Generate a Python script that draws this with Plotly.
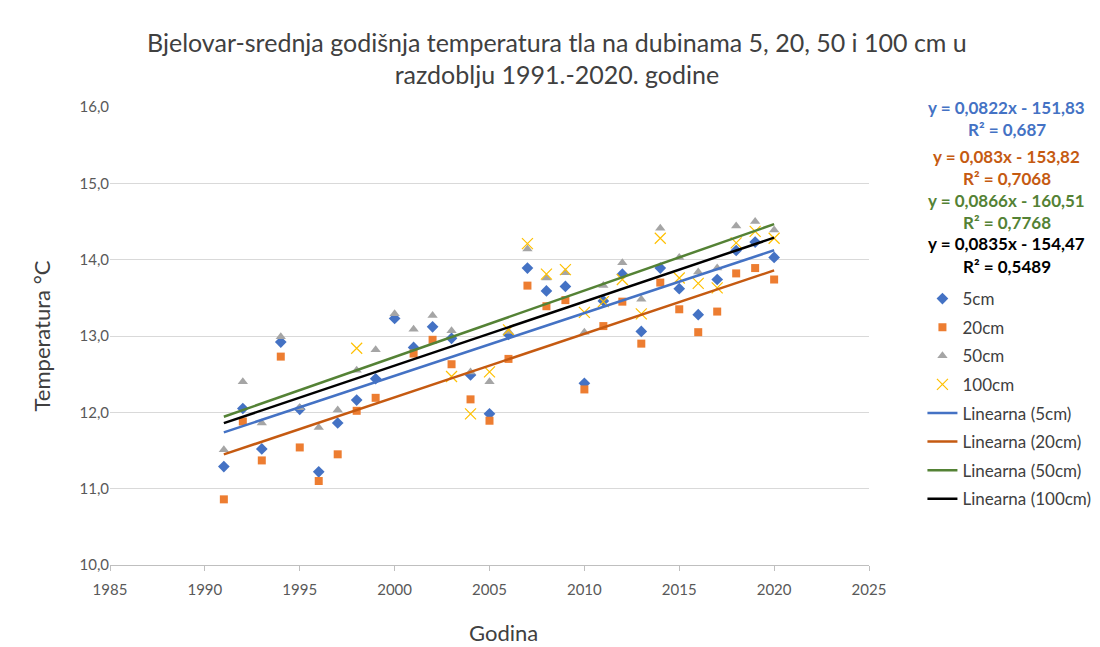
import numpy as np
import plotly.graph_objects as go

years = list(range(1991, 2021))

t5cm = [11.29, 12.05, 11.52, 12.92, 12.04, 11.22, 11.86, 12.16, 12.44, 13.23,
        12.85, 13.12, 12.97, 12.49, 11.98, 13.02, 13.89, 13.59, 13.65, 12.38,
        13.46, 13.81, 13.06, 13.89, 13.62, 13.28, 13.74, 14.12, 14.23, 14.03]

t20cm = [10.86, 11.88, 11.37, 12.73, 11.54, 11.10, 11.45, 12.02, 12.19, None,
         12.77, 12.95, 12.63, 12.17, 11.89, 12.70, 13.66, 13.39, 13.47, 12.30,
         13.13, 13.45, 12.90, 13.70, 13.35, 13.05, 13.32, 13.82, 13.89, 13.74]

t50cm = [11.51, 12.40, 11.86, 12.99, 12.06, 11.80, 12.03, 12.55, 12.82, 13.29,
         13.09, 13.27, 13.07, 12.53, 12.40, 13.06, 14.14, 13.76, 13.83, 13.05,
         13.66, 13.96, 13.48, 14.41, 14.03, 13.84, 13.89, 14.44, 14.50, 14.39]

t100cm = [None, None, None, None, None, None, None, 12.84, None, None,
          None, None, 12.47, 11.98, 12.53, 13.08, 14.21, 13.81, 13.87, 13.31,
          13.45, 13.74, 13.29, 14.28, 13.76, 13.69, 13.63, 14.22, 14.37, 14.28]

series_names = ["5cm", "20cm", "50cm", "100cm"]
trend_names = ["Linearna (5cm)", "Linearna (20cm)", "Linearna (50cm)", "Linearna (100cm)"]
equations = ["y = 0,0822x - 151,83", "y = 0,083x - 153,82", "y = 0,0866x - 160,51", "y = 0,0835x - 154,47"]
r2_labels = ["R² = 0,687", "R² = 0,7068", "R² = 0,7768", "R² = 0,5489"]

title_text = "Bjelovar-srednja godišnja temperatura tla na dubinama 5, 20, 50 i 100 cm u<br>razdoblju 1991.-2020. godine"
x_title = "Godina"
y_title = "Temperatura °C"

FONT = "Lato"
marker_colors = ["#4472C4", "#ED7D31", "#A5A5A5", "#FFC000"]
marker_symbols = ["diamond", "square", "triangle-up", "x-thin-open"]
marker_sizes = [9, 8, 9, 11]
trend_colors = ["#4472C4", "#C55A11", "#548235", "#000000"]

data = [t5cm, t20cm, t50cm, t100cm]

# plot area in figure coords (page adds an 8px offset)
L, T = 102, 99
PW, PH = 767, 458

fig = go.Figure()
for i, (name, vals) in enumerate(zip(series_names, data)):
    mk = dict(color=marker_colors[i], size=marker_sizes[i], symbol=marker_symbols[i])
    if marker_symbols[i].endswith("open"):
        mk["line"] = dict(color=marker_colors[i], width=1.2)
    fig.add_trace(go.Scatter(x=years, y=vals, mode="markers", name=name,
                             marker=mk, legendgroup=name, cliponaxis=False))

for i, (name, vals) in enumerate(zip(trend_names, data)):
    xs = np.array([y for y, v in zip(years, vals) if v is not None], dtype=float)
    ys = np.array([v for v in vals if v is not None], dtype=float)
    k, b = np.polyfit(xs, ys, 1)
    xr = np.array([years[0], years[-1]], dtype=float)
    fig.add_trace(go.Scatter(x=xr, y=k * xr + b, mode="lines", name=name,
                             line=dict(color=trend_colors[i], width=2.5),
                             legendgroup=name))

def ypaper(screen_py):
    return (T + PH - (screen_py - 8)) / PH

def xpaper(screen_px):
    return ((screen_px - 8) - L) / PW

eq_y_px = [[107, 129], [156, 178], [200, 222], [243, 266]]
for i in range(4):
    for txt, py in zip([equations[i], r2_labels[i]], eq_y_px[i]):
        fig.add_annotation(text="<b>" + txt + "</b>", xref="paper", yref="paper",
                           x=xpaper(1016), y=ypaper(py), xanchor="center", yanchor="middle",
                           showarrow=False,
                           font=dict(family=FONT, size=17, color=trend_colors[i]))

fig.add_annotation(text=x_title, xref="paper", yref="paper",
                   x=xpaper(508), y=ypaper(632), xanchor="center", yanchor="middle",
                   showarrow=False, font=dict(family=FONT, size=22, color="#404040"))

fig.update_layout(
    width=1100, height=647,
    margin=dict(l=L, r=1100 - L - PW, t=T, b=647 - T - PH),
    paper_bgcolor="white", plot_bgcolor="white",
    separators=", ",
    font=dict(family=FONT, color="#404040"),
    title=dict(text=title_text, x=0.499, xanchor="center", y=0.932, yanchor="top",
               font=dict(family=FONT, size=25, color="#404040")),
    showlegend=True,
    legend=dict(x=xpaper(931), xanchor="left", y=ypaper(281), yanchor="top",
                font=dict(family=FONT, size=17, color="#404040"),
                tracegroupgap=3.5, bgcolor="rgba(0,0,0,0)"),
    xaxis=dict(range=[1985, 2025], dtick=5, tick0=1985, showgrid=False,
               showline=True, linecolor="#BFBFBF", linewidth=1,
               ticks="outside", ticklen=5, tickcolor="#BFBFBF",
               ticklabelstandoff=6,
               tickfont=dict(family=FONT, size=15, color="#595959"),
               zeroline=False),
    yaxis=dict(range=[10, 16], dtick=1, tickformat=".1f", showgrid=True,
               gridcolor="#D9D9D9", gridwidth=1, showline=False, zeroline=False,
               tickfont=dict(family=FONT, size=15, color="#595959"),
               title=dict(text=y_title, font=dict(family=FONT, size=22, color="#404040"), standoff=22)),
)

fig.write_html("out.html")
